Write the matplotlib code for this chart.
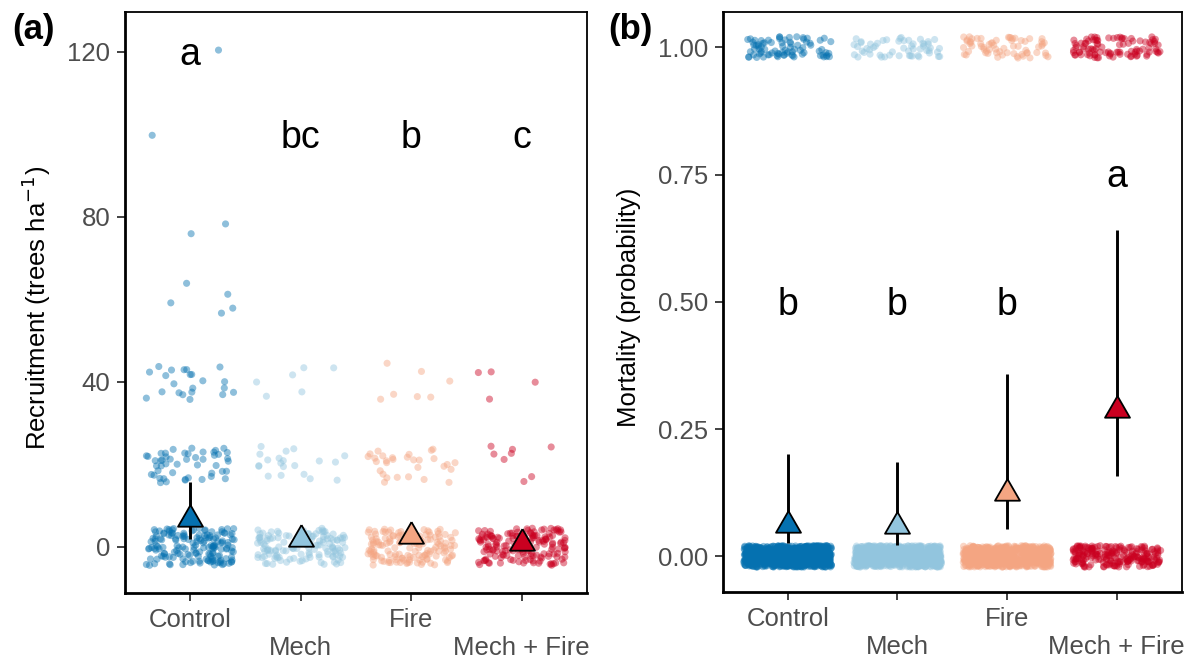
import numpy as np
import matplotlib
matplotlib.use("Agg")
import matplotlib.pyplot as plt

plt.rcParams['font.family'] = ['Liberation Sans', 'DejaVu Sans']

# ---------------- data ----------------
treatments = ["Control", "Mech", "Fire", "Mech + Fire"]
colors = ["#0571B0", "#92C5DE", "#F4A582", "#CA0020"]

# Recruitment: observed levels (trees/ha) and number of plots at each level
recruit_levels = [0, 20, 40, 60, 80, 100, 120]
recruit_counts = {
    "Control":     [160, 48, 22, 5, 2, 1, 1],
    "Mech":        [130, 20, 6, 0, 0, 0, 0],
    "Fire":        [140, 30, 7, 0, 0, 0, 0],
    "Mech + Fire": [160, 8, 4, 0, 0, 0, 0],
}
recruit_mean = [6.7, 1.8, 2.6, 1.0]
recruit_lo = [1.8, 1.0, 1.6, 0.3]
recruit_hi = [15.8, 2.8, 3.8, 1.8]
recruit_letters = ["a", "bc", "b", "c"]
recruit_letter_y = [116.8, 96.6, 96.6, 96.6]

# Mortality: number of trees alive (0) and dead (1)
mort_levels = [0, 1]
mort_counts = {
    "Control":     [900, 80],
    "Mech":        [800, 55],
    "Fire":        [650, 65],
    "Mech + Fire": [220, 95],
}
mort_mean = [0.062, 0.059, 0.124, 0.287]
mort_lo = [0.027, 0.023, 0.054, 0.157]
mort_hi = [0.201, 0.185, 0.358, 0.642]
mort_letters = ["b", "b", "b", "a"]
mort_letter_y = [0.474, 0.474, 0.474, 0.725]

# ---------------- helpers ----------------
TRI = [(0, 1.555), (1.347, -0.778), (-1.347, -0.778), (0, 1.555)]


def jitter(n, off, wx, wy):
    # deterministic hash-based scatter for jitter offsets (visual only)
    k = np.arange(n, dtype=float) + off
    u = np.modf(np.abs(np.sin(k * 12.9898 + 1.7) * 43758.5453))[0]
    v = np.modf(np.abs(np.sin(k * 78.233 + 4.1) * 24634.6345))[0]
    return (u * 2 - 1) * wx, (v * 2 - 1) * wy


def style_axes(ax):
    for s in ["left", "bottom"]:
        ax.spines[s].set_linewidth(2.0)
    for s in ["top", "right"]:
        ax.spines[s].set_linewidth(1.3)
    ax.tick_params(axis="both", which="both", colors="#333333", labelcolor="#4D4D4D",
                   labelsize=18.5, length=5.5, width=1.3, pad=5)
    ax.set_xticks([1, 3])
    ax.set_xticklabels([treatments[0], treatments[2]])
    ax.set_xticks([2, 4], minor=True)
    ax.set_xticklabels([treatments[1], treatments[3]], minor=True)
    ax.tick_params(axis="x", which="minor", pad=25.2)
    ax.tick_params(axis="y", which="minor", left=False)


def panel(ax, levels, counts, wy, mean, lo, hi, letters, letter_y, off0):
    off = off0
    for i, t in enumerate(treatments):
        xs, ys = [], []
        for lev, cnt in zip(levels, counts[t]):
            if cnt == 0:
                continue
            jx, jy = jitter(cnt, off, 0.40, wy)
            off += cnt + 17
            xs.append(i + 1 + jx)
            ys.append(lev + jy)
        ax.scatter(np.concatenate(xs), np.concatenate(ys), s=26, color=colors[i],
                   alpha=0.45, edgecolors="none", zorder=2)
        ax.plot([i + 1, i + 1], [lo[i], hi[i]], color="black", lw=2.1, zorder=3,
                solid_capstyle="butt")
        ax.scatter([i + 1], [mean[i]], marker=TRI, s=430, color=colors[i],
                   edgecolors="black", linewidths=1.3, zorder=4)
        ax.text(i + 1, letter_y[i], letters[i], ha="center", va="baseline",
                fontsize=27, color="black")


fig = plt.figure(figsize=(11.91, 6.61), dpi=100)
axA = fig.add_axes([125 / 1191, 68 / 661, 462 / 1191, 581.3 / 661])
axB = fig.add_axes([723 / 1191, 69 / 661, 458.5 / 1191, 580.3 / 661])

# ---------------- panel a ----------------
panel(axA, recruit_levels, recruit_counts, 4.5, recruit_mean, recruit_lo, recruit_hi,
      recruit_letters, recruit_letter_y, 3)
axA.set_xlim(0.41, 4.59)
axA.set_ylim(-11.2, 129.7)
axA.set_yticks([0, 40, 80, 120])
style_axes(axA)
axA.set_ylabel("Recruitment (trees ha$^{-1}$)", fontsize=18.5)
axA.yaxis.set_label_coords(-0.156, 0.49)

# ---------------- panel b ----------------
panel(axB, mort_levels, mort_counts, 0.021, mort_mean, mort_lo, mort_hi,
      mort_letters, mort_letter_y, 2000)
axB.set_xlim(0.41, 4.59)
axB.set_ylim(-0.07, 1.07)
axB.set_yticks([0, 0.25, 0.5, 0.75, 1.0])
axB.set_yticklabels(["0.00", "0.25", "0.50", "0.75", "1.00"])
style_axes(axB)
axB.set_ylabel("Mortality (probability)", fontsize=18.5)
axB.yaxis.set_label_coords(-0.179, 0.49)

fig.text(12.5 / 1191, 1 - 29 / 661, "(a)", fontsize=25, fontweight="bold", va="center")
fig.text(608 / 1191, 1 - 29 / 661, "(b)", fontsize=25, fontweight="bold", va="center")

fig.savefig("out.png", dpi=100)
